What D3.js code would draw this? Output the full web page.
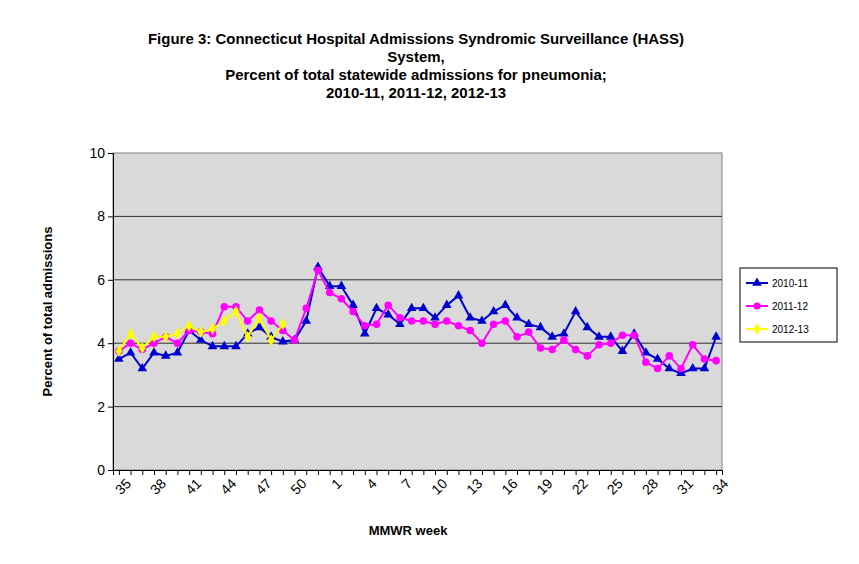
<!DOCTYPE html>
<html><head><meta charset="utf-8">
<script src="https://cdn.jsdelivr.net/npm/d3@7"></script>
<style>body{margin:0;background:#fff;font-family:Arial,"Liberation Sans",sans-serif;}</style>
</head><body><div id="chart"></div>
<script>
const weeks = [35,36,37,38,39,40,41,42,43,44,45,46,47,48,49,50,51,52,
  1,2,3,4,5,6,7,8,9,10,11,12,13,14,15,16,17,18,19,20,21,22,23,24,25,26,27,28,29,30,31,32,33,34];
const s2010 = [3.5,3.7,3.2,3.7,3.6,3.7,4.4,4.1,3.9,3.9,3.9,4.3,4.5,4.2,4.05,4.1,4.7,6.4,
  5.8,5.8,5.2,4.3,5.1,4.9,4.6,5.1,5.1,4.8,5.2,5.5,4.8,4.7,5.0,5.2,4.8,4.6,4.5,4.2,4.3,5.0,4.5,4.2,4.2,3.75,4.3,3.7,3.5,3.2,3.05,3.2,3.2,4.2];
const s2011 = [3.75,4.0,3.8,4.0,4.2,4.0,4.4,4.35,4.3,5.15,5.15,4.7,5.05,4.7,4.4,4.1,5.1,6.3,
  5.6,5.4,5.0,4.55,4.6,5.2,4.8,4.7,4.7,4.6,4.7,4.55,4.4,4.0,4.6,4.7,4.2,4.35,3.85,3.8,4.1,3.8,3.6,3.95,4.0,4.25,4.25,3.4,3.2,3.6,3.2,3.95,3.5,3.45];
const s2012 = [3.75,4.3,3.85,4.2,4.2,4.3,4.55,4.35,4.45,4.7,5.0,4.2,4.8,4.1,4.6];
const yTicks = [0,2,4,6,8,10];
const series = [
  {name:'2010-11', values:s2010, color:'#0000cc', shape:'tri'},
  {name:'2011-12', values:s2011, color:'#ff00ff', shape:'circ'},
  {name:'2012-13', values:s2012, color:'#ffff00', shape:'diam'}
];

const W = 859, H = 564;
const m = {left:113, right:137, top:153, bottom:94};
const svg = d3.select('#chart').append('svg').attr('width', W).attr('height', H);
const x = d3.scalePoint().domain(d3.range(weeks.length)).range([m.left, W - m.right]).padding(0.5);
const y = d3.scaleLinear().domain([0,10]).range([H - m.bottom, m.top]);

svg.append('rect').attr('x', m.left).attr('y', m.top)
  .attr('width', W - m.left - m.right).attr('height', H - m.top - m.bottom)
  .attr('fill', '#d9d9d9').attr('stroke', '#808080');

svg.append('g').selectAll('line').data(yTicks.slice(1, -1)).join('line')
  .attr('x1', m.left).attr('x2', W - m.right)
  .attr('y1', d => y(d)).attr('y2', d => y(d)).attr('stroke', '#000').attr('stroke-width', 0.8);

const ya = svg.append('g').attr('transform', `translate(${m.left},0)`)
  .call(d3.axisLeft(y).tickValues(yTicks).tickSize(5));
ya.selectAll('text').style('font-size', '14px').attr('fill', '#000');
ya.select('.domain').attr('stroke', '#000');

const xa = svg.append('g').attr('transform', `translate(0,${H - m.bottom})`)
  .call(d3.axisBottom(x).tickSize(5).tickFormat(i => i % 3 === 0 ? weeks[i] : ''));
xa.select('.domain').attr('stroke', '#000');
xa.selectAll('text').style('font-size', '14px').attr('fill', '#000')
  .attr('transform', 'rotate(-45)').attr('text-anchor', 'end').attr('dx', '-0.1em').attr('dy', '0.8em');

const sym = {tri: d3.symbolTriangle, circ: d3.symbolCircle, diam: d3.symbolDiamond};
series.forEach(s => {
  const line = d3.line().x((d, i) => x(i)).y(d => y(d));
  svg.append('path').datum(s.values).attr('d', line)
    .attr('fill', 'none').attr('stroke', s.color).attr('stroke-width', 2);
  svg.append('g').selectAll('path').data(s.values).join('path')
    .attr('transform', (d, i) => `translate(${x(i)},${y(d)})`)
    .attr('d', d3.symbol(sym[s.shape], s.shape === 'circ' ? 45 : 40)).attr('fill', s.color);
});

// legend
const lg = svg.append('g').attr('transform', 'translate(740,268)');
lg.append('rect').attr('width', 97).attr('height', 74).attr('fill', '#fff').attr('stroke', '#000');
series.forEach((s, i) => {
  const g = lg.append('g').attr('transform', `translate(6,${15 + i * 23})`);
  g.append('line').attr('x1', 0).attr('x2', 22).attr('stroke', s.color).attr('stroke-width', 2);
  g.append('path').attr('transform', 'translate(11,0)').attr('d', d3.symbol(sym[s.shape], 40)).attr('fill', s.color);
  g.append('text').attr('x', 26).attr('dy', '0.35em').style('font-size', '10px').text(s.name);
});

const title = ['Figure 3:  Connecticut Hospital Admissions Syndromic Surveillance (HASS)', 'System,',
  'Percent of total statewide admissions for pneumonia;', '2010-11, 2011-12, 2012-13'];
svg.append('g').selectAll('text').data(title).join('text')
  .attr('x', 416).attr('y', (d, i) => 44 + i * 18).attr('text-anchor', 'middle')
  .style('font-size', '15px').style('font-weight', 'bold').text(d => d);

svg.append('text').attr('transform', `translate(52,${y(5)}) rotate(-90)`).attr('text-anchor', 'middle')
  .style('font-size', '13px').style('font-weight', 'bold').text('Percent of total admissions');
svg.append('text').attr('x', 408).attr('y', 535).attr('text-anchor', 'middle')
  .style('font-size', '13px').style('font-weight', 'bold').text('MMWR week');
</script></body></html>
